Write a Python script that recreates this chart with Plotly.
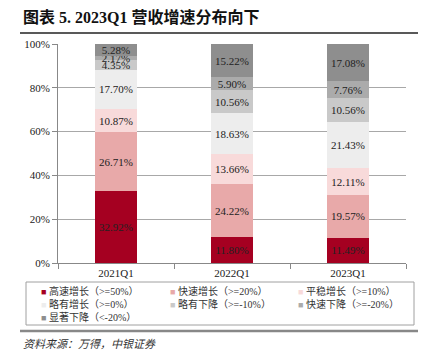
import plotly.graph_objects as go

categories = ["2021Q1", "2022Q1", "2023Q1"]
series_names = ["高速增长（>=50%）", "快速增长（>=20%）", "平稳增长（>=10%）",
                "略有增长（>=0%）", "略有下降（>=-10%）", "快速下降（>=-20%）",
                "显著下降（<-20%）"]
high_growth = [32.92, 11.80, 11.49]
fast_growth = [26.71, 24.22, 19.57]
steady_growth = [10.87, 13.66, 12.11]
slight_growth = [17.70, 18.63, 21.43]
slight_decline = [4.35, 10.56, 10.56]
fast_decline = [2.17, 5.90, 7.76]
sharp_decline = [5.28, 15.22, 17.08]
y_ticks = [0, 20, 40, 60, 80, 100]
y_tick_labels = ["0%", "20%", "40%", "60%", "80%", "100%"]

series_values = [high_growth, fast_growth, steady_growth, slight_growth,
                 slight_decline, fast_decline, sharp_decline]
colors = ["#A50021", "#E8A9A9", "#F8DADA", "#EDEDED", "#C9C9C9", "#ABABAB", "#8E8E8E"]

FONT = "Liberation Serif, Times New Roman, Noto Sans CJK SC, serif"

# plot area in pixels (for converting layout positions)
W, H = 425, 360
L, R, T, B = 58, 19, 44, 97
PW, PH = W - L - R, H - T - B


def px_x(x):
    return (x - L) / PW


def px_y(y):
    return (H - B - y) / PH


fig = go.Figure()
for name, vals, col in zip(series_names, series_values, colors):
    fig.add_trace(go.Bar(
        x=categories, y=vals, name=name,
        marker=dict(color=col, line=dict(width=0)),
        text=[f"{v:.2f}%" for v in vals],
        textposition="inside", insidetextanchor="middle",
        textfont=dict(color="#222222", size=11, family=FONT),
        insidetextfont=dict(color="#222222", size=11, family=FONT),
        width=0.36, showlegend=False,
    ))

# legend drawn as a 3-column grid of annotations
annotations = []
col_x = [39, 168, 296]
row_y = [291, 304, 317]
for i, (name, col) in enumerate(zip(series_names, colors)):
    r, c = divmod(i, 3)
    annotations.append(dict(
        text=f"<span style='color:{col};font-size:9px'>■</span> {name}",
        xref="paper", yref="paper", x=px_x(col_x[c]), y=px_y(row_y[r]),
        xanchor="left", yanchor="middle", showarrow=False,
        font=dict(size=10, family=FONT, color="#333333"),
    ))

annotations += [
    dict(text="<b>图表 5. 2023Q1 营收增速分布向下</b>", xref="paper", yref="paper",
         x=px_x(21), y=px_y(17), xanchor="left", yanchor="middle", showarrow=False,
         font=dict(size=16, family=FONT, color="#111111")),
    dict(text="<i>资料来源：万得，中银证券</i>", xref="paper", yref="paper",
         x=px_x(21), y=px_y(344), xanchor="left", yanchor="middle", showarrow=False,
         font=dict(size=11, family=FONT, color="#333333")),
]

fig.update_layout(
    barmode="stack",
    width=W, height=H,
    margin=dict(l=L, r=R, t=T, b=B, autoexpand=False),
    paper_bgcolor="white", plot_bgcolor="white",
    font=dict(family=FONT, color="#222222", size=11),
    uniformtext=dict(minsize=11, mode="show"),
    showlegend=False,
    xaxis=dict(
        showline=True, linecolor="#888888", linewidth=1,
        ticks="outside", tickson="boundaries", ticklen=5, tickcolor="#888888",
        tickfont=dict(size=11, family=FONT, color="#222222"),
        showgrid=False,
    ),
    yaxis=dict(
        range=[0, 100], tickvals=y_ticks, ticktext=y_tick_labels,
        showline=True, linecolor="#888888", linewidth=1,
        ticks="outside", ticklen=5, tickcolor="#888888",
        showgrid=True, gridcolor="#A8A8A8", gridwidth=1,
        tickfont=dict(size=11, family=FONT, color="#222222"),
        zeroline=False,
    ),
    shapes=[
        dict(type="line", xref="paper", yref="paper",
             x0=px_x(20), x1=px_x(418), y0=px_y(33), y1=px_y(33),
             line=dict(color="#222222", width=1.5)),
        dict(type="rect", xref="paper", yref="paper",
             x0=px_x(26), x1=px_x(414), y0=px_y(282), y1=px_y(325),
             line=dict(color="#A0A0A0", width=1)),
        dict(type="line", xref="paper", yref="paper",
             x0=px_x(20), x1=px_x(418), y0=px_y(331), y1=px_y(331),
             line=dict(color="#888888", width=2.5)),
    ],
    annotations=annotations,
)

fig.write_html(
    "out.html",
    config={"displayModeBar": False},
    post_script="document.body.style.margin='0px';document.body.style.padding='0px';",
)
